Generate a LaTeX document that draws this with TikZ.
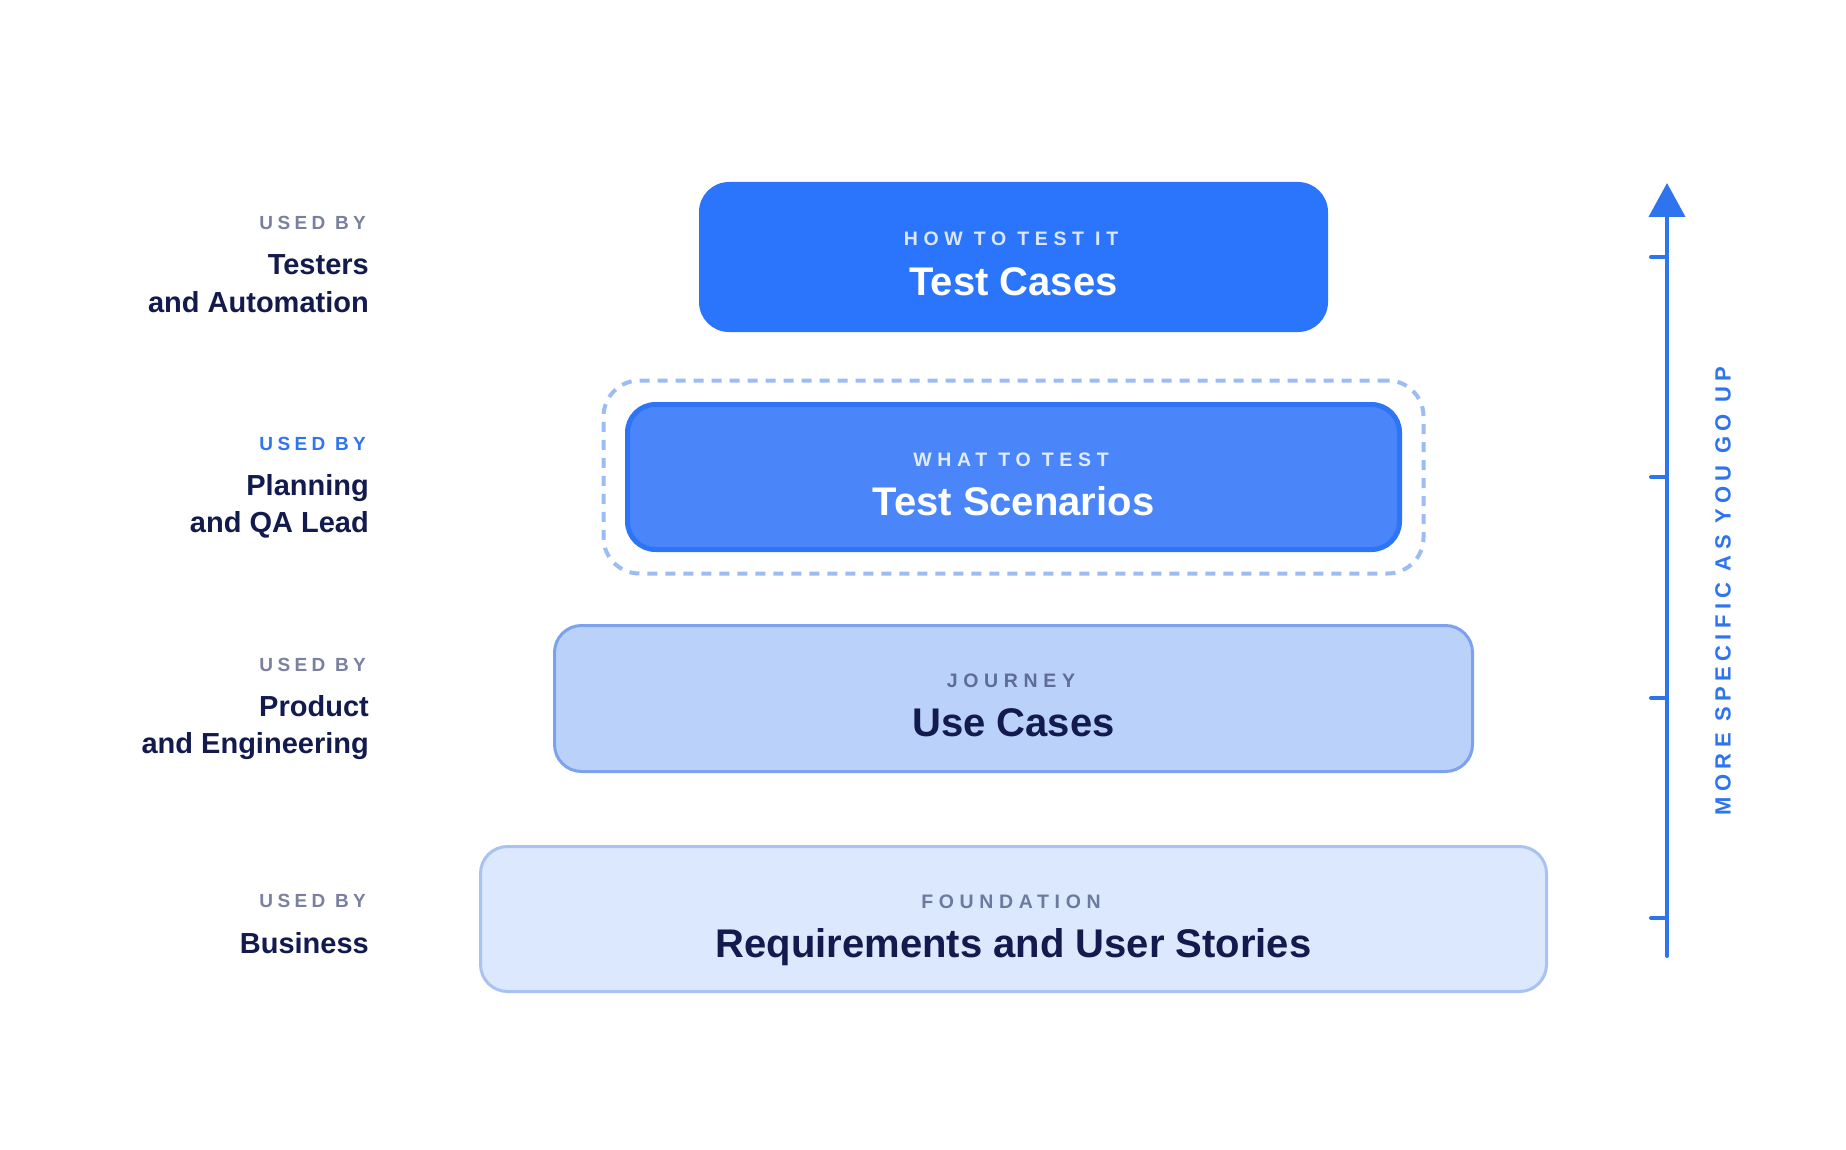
\documentclass[tikz,border=0pt]{standalone}
\usepackage{fontspec}
\setmainfont{Liberation Sans}
\newfontfamily\boxtrack{Liberation Sans}[LetterSpace=29]
\newfontfamily\usedtrack{Liberation Sans}[LetterSpace=23]
\newfontfamily\axtrack{Liberation Sans}[LetterSpace=24.5]
\usetikzlibrary{arrows.meta,fit,backgrounds}
\definecolor{tcfill}{HTML}{2A75FB}
\definecolor{tsfill}{HTML}{4A86FA}
\definecolor{tsdraw}{HTML}{2E74F6}
\definecolor{ucfill}{HTML}{BAD1FA}
\definecolor{ucdraw}{HTML}{7CA2EE}
\definecolor{rqfill}{HTML}{DCE8FD}
\definecolor{rqdraw}{HTML}{A8C2F4}
\definecolor{dashc}{HTML}{9CBCF5}
\definecolor{navy}{HTML}{121A4E}
\definecolor{graylbl}{HTML}{7A80A0}
\definecolor{bluelbl}{HTML}{2F74F0}
\definecolor{axisc}{HTML}{2E74EE}
\definecolor{tclbl}{HTML}{DCE7FE}
\definecolor{tslbl}{HTML}{E2ECFE}
\definecolor{uclbl}{HTML}{5F6D95}
\definecolor{rqlbl}{HTML}{6D7AA0}
\definecolor{clinec}{HTML}{C9CED9}
\begin{document}
\begin{tikzpicture}[x=1pt,y=-1pt,
  tier/.style={rectangle, inner sep=0pt},
  tcbox/.style={tier, fill=tcfill, draw=none, minimum width=629pt, minimum height=150pt, rounded corners=30pt},
  tsbox/.style={tier, fill=tsfill, draw=tsdraw, line width=5pt, minimum width=772pt, minimum height=145pt, rounded corners=28pt},
  ucbox/.style={tier, fill=ucfill, draw=ucdraw, line width=3pt, minimum width=918pt, minimum height=146pt, rounded corners=27pt},
  rqbox/.style={tier, fill=rqfill, draw=rqdraw, line width=3pt, minimum width=1066pt, minimum height=145pt, rounded corners=27pt},
  dbox/.style={rectangle, draw=dashc, line width=4pt, dash pattern=on 10pt off 8pt, rounded corners=36pt},
  boxlbl/.style={inner sep=0pt, anchor=base, xshift=-2.5pt, font=\boxtrack\bfseries\fontsize{19.5}{22}\selectfont},
  boxttl/.style={inner sep=0pt, anchor=base, font=\bfseries\fontsize{40}{46}\selectfont},
  usedby/.style={inner sep=0pt, anchor=base east, text=graylbl, font=\usedtrack\bfseries\fontsize{19}{22}\selectfont},
  who/.style={inner sep=0pt, anchor=base east, text=navy, font=\bfseries\fontsize{29}{34}\selectfont},
  axisline/.style={draw=axisc, line width=4pt, line cap=round},
  axlbl/.style={inner sep=0pt, rotate=90, text=axisc, font=\axtrack\bfseries\fontsize{22}{26}\selectfont},
  cline/.style={draw=clinec, line width=2pt, dash pattern=on 6pt off 6pt}
]
\fill[white] (0,0) rectangle (1846,1150);

% tiers
\node[tcbox] (tc) at (1013.5,257) {};
\node[tsbox] (ts) at (1013.5,477) {};
\node[ucbox] (uc) at (1013.5,698.5) {};
\node[rqbox] (rq) at (1013.5,919) {};
\node[dbox, fit=(ts), inner sep=21.5pt] (dbx) {};

\begin{scope}[on background layer]
\draw[cline] (tc.south) -- (rq.north);
\end{scope}

% texts in tiers
\node[boxlbl, text=tclbl] (tcl) at ([yshift=11pt]tc.center) {HOW TO TEST IT};
\node[boxttl, text=white] (tct) at ([yshift=-38pt]tc.center) {Test Cases};
\node[boxlbl, text=tslbl] (tsl) at ([yshift=11pt]ts.center) {WHAT TO TEST};
\node[boxttl, text=white] (tst) at ([yshift=-38pt]ts.center) {Test Scenarios};
\node[boxlbl, text=uclbl] (ucl) at ([yshift=11pt]uc.center) {JOURNEY};
\node[boxttl, text=navy] (uct) at ([yshift=-38pt]uc.center) {Use Cases};
\node[boxlbl, text=rqlbl] (rql) at ([yshift=11pt]rq.center) {FOUNDATION};
\node[boxttl, text=navy] (rqt) at ([yshift=-38pt]rq.center) {Requirements and User Stories};

% left labels
\node[usedby] (u1) at (366,230) {USED BY};
\node[who] (w1a) at (369,275) {Testers};
\node[who] (w1b) at (369,312) {and Automation};
\node[usedby, text=bluelbl] (u2) at (366,450) {USED BY};
\node[who] (w2a) at (369,495) {Planning};
\node[who] (w2b) at (369,532) {and QA Lead};
\node[usedby] (u3) at (366,671) {USED BY};
\node[who] (w3a) at (369,716) {Product};
\node[who] (w3b) at (369,753) {and Engineering};
\node[usedby] (u4) at (366,907) {USED BY};
\node[who] (w4a) at (369,953) {Business};

% axis
\coordinate (axbot) at (1667,956);
\coordinate (axtop) at (1667,183);
\draw[axisline, -{Triangle[length=34pt,width=36pt]}] (axbot) -- (axtop);
\coordinate (k1) at (1667,257);
\coordinate (k2) at (1667,477);
\coordinate (k3) at (1667,698);
\coordinate (k4) at (1667,918);
\coordinate (k1e) at (1651,257);
\coordinate (k2e) at (1651,477);
\coordinate (k3e) at (1651,698);
\coordinate (k4e) at (1651,918);
\draw[axisline] (k1) -- (k1e);
\draw[axisline] (k2) -- (k2e);
\draw[axisline] (k3) -- (k3e);
\draw[axisline] (k4) -- (k4e);
\node[axlbl] (axl) at (1723,591) {MORE SPECIFIC AS YOU GO UP};
\end{tikzpicture}
\end{document}
